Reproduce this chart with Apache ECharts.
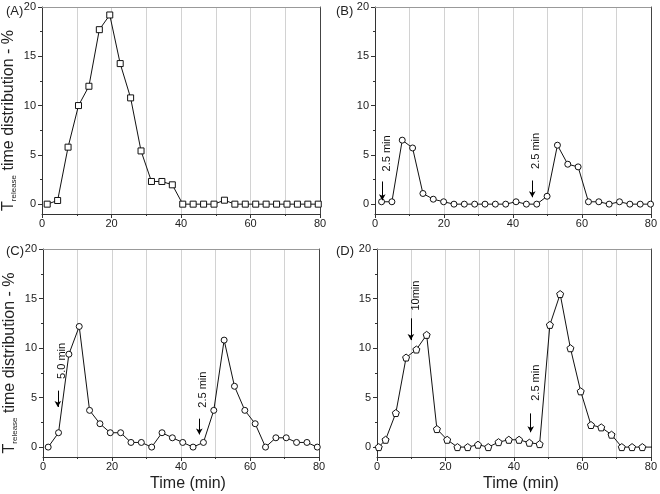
<!DOCTYPE html>
<html><head><meta charset="utf-8">
<script src="https://cdn.jsdelivr.net/npm/echarts@6/dist/echarts.min.js"></script>
<style>html,body{margin:0;padding:0;background:#fff}#c{width:660px;height:494px}</style>
</head><body><div id="c"></div>
<script>
// ---- data ----
const xA = [1.5,4.5,7.5,10.5,13.5,16.5,19.5,22.5,25.5,28.5,31.5,34.5,37.5,40.5,43.5,46.5,49.5,52.5,55.5,58.5,61.5,64.5,67.5,70.5,73.5,76.5,79.5];
const yA = [0,0.37,5.78,10.0,11.96,17.7,19.19,14.26,10.78,5.4,2.3,2.3,1.96,0,0,0,0,0.4,0,0,0,0,0,0,0,0,0];
const xB = [1.9,4.9,7.9,10.9,13.9,16.9,19.9,22.9,25.9,28.9,31.9,34.9,37.9,40.9,43.9,46.9,49.9,52.9,55.9,58.9,61.9,64.9,67.9,70.9,73.9,76.9,79.9];
const yB = [0.24,0.24,6.49,5.7,1.08,0.5,0.24,0,0,0,0,0,0,0.24,0,0,0.8,5.98,4.05,3.78,0.24,0.24,0,0.24,0,0,0];
const xC = [1.5,4.5,7.5,10.5,13.5,16.5,19.5,22.5,25.5,28.5,31.5,34.5,37.5,40.5,43.5,46.5,49.5,52.5,55.5,58.5,61.5,64.5,67.5,70.5,73.5,76.5,79.5];
const yC = [0,1.45,9.38,12.18,3.71,2.36,1.45,1.45,0.47,0.47,0,1.45,0.94,0.47,0,0.47,3.71,10.8,6.14,3.71,2.36,0,0.94,0.94,0.47,0.47,0];
const xD = [0.5,2.5,5.5,8.5,11.5,14.5,17.5,20.5,23.5,26.5,29.5,32.5,35.5,38.5,41.5,44.5,47.5,50.5,53.5,56.5,59.5,62.5,65.5,68.5,71.5,74.5,77.5,80.5];
const yD = [0,0.74,3.44,9.04,9.85,11.33,1.82,0.74,0,0,0.24,0,0.5,0.74,0.74,0.44,0.3,12.34,15.45,9.98,5.63,2.23,1.99,1.25,0,0,0,0];
const panelLabels = ['(A)','(B)','(C)','(D)'];
const yTickLabels = [0,5,10,15,20];
const yMinorTicks = [2.5,7.5,12.5,17.5];
// annotations: [label, textX, textY, arrowX, arrowFromY, arrowToY]
const annB = [['2.5 min',3.6,5.15,2.1,2.3,0.4],['2.5 min',46.7,5.4,45.6,2.4,0.7]];
const annC = [['5.0 min',5.6,8.7,4.3,5.7,4.05],['2.5 min',46.5,5.8,45.3,2.87,1.28]];
const annD = [['10min',11.25,15.3,9.9,13.0,10.8],['2.5 min',46.3,6.5,44.9,3.4,1.5]];

const FONT = 'Liberation Sans, Arial, sans-serif';
const grids = [
  {left:42, top:7, width:278, height:207},
  {left:375, top:7, width:277, height:207},
  {left:43, top:249, width:276, height:208},
  {left:377, top:249, width:276, height:208}
];
const pentagon = 'path://M0,-1L0.951,-0.309L0.588,0.809L-0.588,0.809L-0.951,-0.309Z';
const panels = [
  {x:xA, y:yA, sym:'rect', ann:[]},
  {x:xB, y:yB, sym:'circle', ann:annB},
  {x:xC, y:yC, sym:'circle', ann:annC},
  {x:xD, y:yD, sym:pentagon, ann:annD}
];

const xAxes = [], yAxes = [], series = [], titles = [];
panels.forEach((p, i) => {
  const bottom = i >= 2, leftCol = (i % 2 === 0);
  xAxes.push({
    gridIndex:i, type:'value', min:0, max:80, interval:20,
    axisLine:{show:true, onZero:false, lineStyle:{color:'#333', width:1}},
    axisTick:{show:true, length:4, lineStyle:{color:'#333'}},
    minorTick:{show:true, splitNumber:2, length:2, lineStyle:{color:'#333'}},
    splitLine:{show:true, lineStyle:{color:'#d2d2d2', width:1}},
    minorSplitLine:{show:true, lineStyle:{color:'#d2d2d2', width:1}},
    axisLabel:{fontSize:11, color:'#222', fontFamily:FONT, margin:4},
    name: bottom ? 'Time (min)' : '', nameLocation:'middle', nameGap:19,
    nameTextStyle:{fontSize:16, color:'#222', fontFamily:FONT, padding:[0,0,0,14]}
  });
  xAxes.push({
    gridIndex:i, type:'value', min:0, max:80, position:'top',
    axisLine:{show:true, onZero:false, lineStyle:{color:'#999', width:1}},
    axisTick:{show:false}, axisLabel:{show:false}, splitLine:{show:false}
  });
  yAxes.push({
    gridIndex:i, type:'value', min:-1, max:20, position:'left',
    axisLine:{show:true, onZero:false, lineStyle:{color:'#333', width:1}},
    axisTick:{show:true, length:4, customValues:yTickLabels, lineStyle:{color:'#333'}},
    axisLabel:{fontSize:11, color:'#222', fontFamily:FONT, margin:6, customValues:yTickLabels},
    splitLine:{show:false},
    name: leftCol ? '{a|T}{b|release}{a| time distribution - %}' : '',
    nameLocation:'middle', nameGap:24,
    nameTextStyle:{fontFamily:FONT, color:'#222', padding:[0,20,0,0],
      rich:{a:{fontSize:16, fontFamily:FONT, color:'#222', lineHeight:18},
            b:{fontSize:8, fontFamily:FONT, color:'#222', verticalAlign:'bottom', lineHeight:10}}}
  });
  yAxes.push({
    gridIndex:i, type:'value', min:-1, max:20, position:'left',
    axisLine:{show:false, onZero:false},
    axisTick:{show:true, length:2, customValues:yMinorTicks, lineStyle:{color:'#333'}},
    axisLabel:{show:false}, splitLine:{show:false}
  });
  yAxes.push({
    gridIndex:i, type:'value', min:-1, max:20, position:'right',
    axisLine:{show:true, onZero:false, lineStyle:{color:'#444', width:1}},
    axisTick:{show:false}, axisLabel:{show:false}, splitLine:{show:false}
  });
  const data = p.x.map((v, k) => [v, p.y[k]]);
  const s = {
    type:'line', xAxisIndex:2*i, yAxisIndex:3*i, data:data,
    symbol:p.sym, symbolSize: p.sym === 'rect' ? 6 : (p.sym === 'circle' ? 6 : 7),
    showAllSymbol:true, clip:true,
    lineStyle:{color:'#111', width:1},
    itemStyle:{color:'#fff', borderColor:'#111', borderWidth:1},
    emphasis:{disabled:true}, silent:true
  };
  if (p.ann.length) {
    s.markPoint = {
      silent:true, symbol:'circle', symbolSize:0, animation:false,
      label:{show:true, position:'inside', rotate:90, fontSize:11, color:'#111', fontFamily:FONT,
        formatter: (prm) => prm.name},
      data: p.ann.map(a => ({name:a[0], coord:[a[1], a[2]]}))
    };
    s.markLine = {
      silent:true, animation:false, symbol:['none','arrow'], symbolSize:[5,6],
      lineStyle:{color:'#000', width:1, type:'solid'}, label:{show:false},
      data: p.ann.map(a => [{coord:[a[3], a[4]]}, {coord:[a[3], a[5]]}])
    };
  }
  series.push(s);
  titles.push({text:panelLabels[i], left: leftCol ? 1 : 331, top: bottom ? 240 : 0,
    textStyle:{fontSize:13, fontWeight:'normal', color:'#222', fontFamily:FONT}});
});

const chart = echarts.init(document.getElementById('c'), null, {renderer:'canvas'});
chart.setOption({
  animation:false, backgroundColor:'#fff',
  title:titles, grid:grids, xAxis:xAxes, yAxis:yAxes, series:series
});
</script></body></html>
